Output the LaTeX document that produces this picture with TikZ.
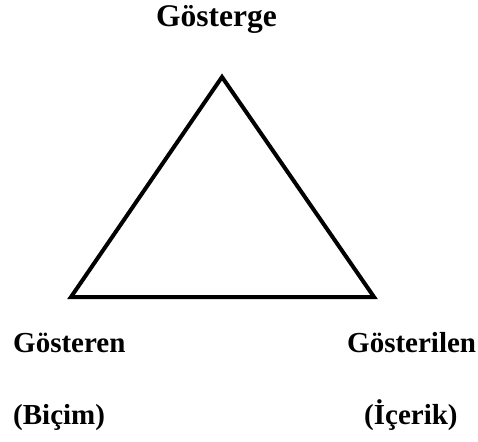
\documentclass[tikz,border=0pt]{standalone}
\usepackage{fontspec}
\setmainfont{Liberation Serif}
\begin{document}
\begin{tikzpicture}[x=1pt,y=-1pt,
  lbl/.style={font=\fontsize{29}{33}\selectfont\bfseries, inner sep=0pt, anchor=base west},
  edge/.style={line width=4pt, line join=miter}]
\useasboundingbox (0,0) rectangle (478,441);
\coordinate (top) at (222,77);
\coordinate (bl) at (71,297);
\coordinate (br) at (374,297);
\draw[edge] (top) -- (bl) -- (br) -- cycle;
\node[lbl, font=\fontsize{31.5}{35}\selectfont\bfseries, anchor=base] (gosterge) at (216.5,27) {Gösterge};
\node[lbl] (gosteren) at (13,352) {Gösteren};
\node[lbl] (gosterilen) at (347,352) {Gösterilen};
\node[lbl] (bicim) at (13,424) {(Biçim)};
\node[lbl] (icerik) at (364,424) {(İçerik)};
\end{tikzpicture}
\end{document}
